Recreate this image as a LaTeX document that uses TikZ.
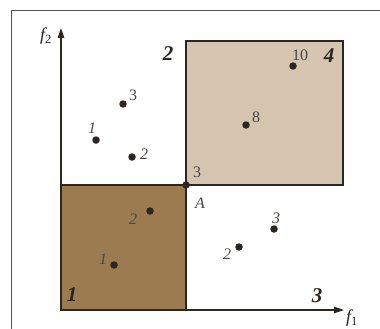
\documentclass[tikz,border=0pt]{standalone}
\usepackage{fontspec}
\setmainfont{Liberation Serif}
\usetikzlibrary{arrows.meta}
\definecolor{darkbrown}{HTML}{9C7B50}
\definecolor{lightbrown}{HTML}{D4C4B0}
\definecolor{ink}{HTML}{2B2622}
\begin{document}
\begin{tikzpicture}[x=1pt,y=-1pt,
  dot/.style={circle,fill=ink,inner sep=0pt,minimum size=7.5pt},
  lab/.style={font=\fontsize{16}{16}\selectfont,inner sep=0pt,text=ink!85},
  ilab/.style={font=\fontsize{16}{16}\selectfont\itshape,inner sep=0pt,text=ink!85},
  reg/.style={font=\fontsize{21}{21}\selectfont\bfseries\itshape,inner sep=0pt,text=ink},
  axlab/.style={font=\fontsize{18}{18}\selectfont,inner sep=0pt,text=ink},
  axis/.style={draw=ink,line width=1.1pt,-{Triangle[length=10pt,width=6.5pt]}},
  box/.style={draw=ink,line width=1.1pt}]
\useasboundingbox (0,0) rectangle (380,329);
\fill[white] (0,0) rectangle (380,329);
% frame
\coordinate (FL) at (11,329);
\coordinate (FC) at (11,11);
\coordinate (FR) at (380,11);
\draw[ink!80,line width=1pt] (FL) -- (FC) -- (FR);
% regions
\filldraw[box,fill=darkbrown] (61,185) rectangle (186,310);
\filldraw[box,fill=lightbrown] (186,41) rectangle (343,185);
% axes
\coordinate (O) at (61,310);
\coordinate (Xend) at (344,310);
\coordinate (Yend) at (61,28);
\draw[axis] (O) -- (Xend);
\draw[axis] (O) -- (Yend);
\node[axlab] (f1) at (352,318) {$\mathit{f}_{\mathrm{1}}$};
\node[axlab] (f2) at (46,36) {$\mathit{f}_{\mathrm{2}}$};
% point A
\node[dot] (A) at (186,185) {};
\node[ilab] (Alab) at (200,203) {A};
\node[lab] (A3) at (197,172) {3};
% region labels
\node[reg] (r1) at (72,295) {1};
\node[reg] (r2) at (168,54) {2};
\node[reg] (r3) at (317,296) {3};
\node[reg] (r4) at (329,56) {4};
% region 2 points
\node[dot] (p23) at (123,104) {};
\node[lab] (l23) at (133,95) {3};
\node[dot] (p21) at (96,140) {};
\node[ilab] (l21) at (92,128) {1};
\node[dot] (p22) at (132,157) {};
\node[ilab] (l22) at (144,154) {2};
% region 4 points
\node[dot] (p410) at (293,66) {};
\node[lab] (l410) at (300,55) {10};
\node[dot] (p48) at (246,125) {};
\node[lab] (l48) at (256,117) {8};
% region 1 points
\node[dot] (p12) at (150,211) {};
\node[ilab] (l12) at (133,219) {2};
\node[dot] (p11) at (114,265) {};
\node[ilab] (l11) at (103,259) {1};
% region 3 points
\node[dot] (p33) at (274,229) {};
\node[ilab] (l33) at (276,218) {3};
\node[dot] (p32) at (239,247) {};
\node[ilab] (l32) at (227,254) {2};
\end{tikzpicture}
\end{document}
